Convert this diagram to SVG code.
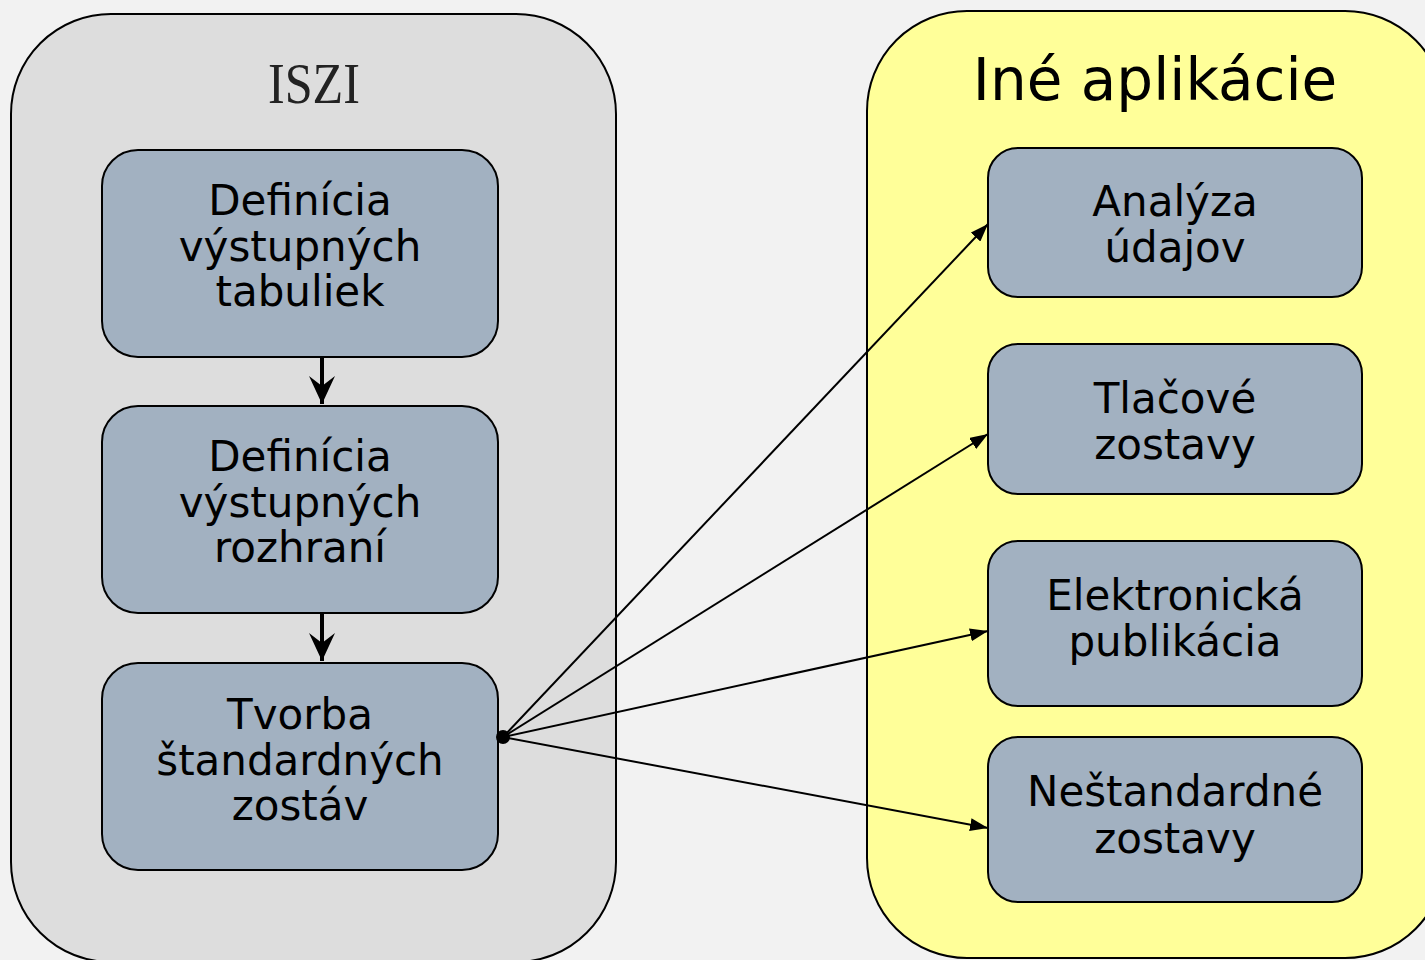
<svg xmlns="http://www.w3.org/2000/svg" width="1425" height="960" viewBox="0 0 1425 960">
<defs>
<style>
.cont{stroke:#000;stroke-width:2}
.node{fill:#A2B1C1;stroke:#000;stroke-width:2}
.lbl{font-family:"DejaVu Sans","Liberation Sans",sans-serif;font-size:42px;fill:#000;text-anchor:middle}
.edge{stroke:#000;stroke-width:2;fill:none}
.vedge{stroke:#000;stroke-width:4;fill:none}
</style>
<marker id="ah" viewBox="0 0 18 13" refX="18" refY="6.5" markerWidth="18" markerHeight="13" markerUnits="userSpaceOnUse" orient="auto">
<path d="M0,0 L18,6.5 L0,13 Z" fill="#000"/>
</marker>
<marker id="vh" viewBox="0 0 28 26" refX="28" refY="13" markerWidth="28" markerHeight="26" markerUnits="userSpaceOnUse" orient="auto">
<path d="M0,0 L28,13 L0,26 L10,13 Z" fill="#000"/>
</marker>
</defs>
<rect width="1425" height="960" fill="#F2F2F2"/>
<g id="iszi">
<rect class="cont" x="11" y="14" width="605" height="948" rx="100" ry="100" fill="#DDDDDD"/>
<text x="314" y="103" font-family="Liberation Serif,serif" font-size="58" fill="#222" text-anchor="middle" textLength="92" lengthAdjust="spacingAndGlyphs">ISZI</text>
</g>
<g id="ine">
<rect class="cont" x="867" y="11" width="578" height="947" rx="100" ry="100" fill="#FFFF99"/>
<text x="1155" y="100" font-family="DejaVu Sans,sans-serif" font-size="58" fill="#000" text-anchor="middle">Iné aplikácie</text>
</g>
<g id="n1">
<rect class="node" x="102" y="150" width="396" height="207" rx="36"/>
<text class="lbl" x="300" y="215">Definícia</text>
<text class="lbl" x="300" y="261">výstupných</text>
<text class="lbl" x="300" y="306">tabuliek</text>
</g>
<g id="n2">
<rect class="node" x="102" y="406" width="396" height="207" rx="36"/>
<text class="lbl" x="300" y="471">Definícia</text>
<text class="lbl" x="300" y="517">výstupných</text>
<text class="lbl" x="300" y="562">rozhraní</text>
</g>
<g id="n3">
<rect class="node" x="102" y="663" width="396" height="207" rx="36"/>
<text class="lbl" x="300" y="729">Tvorba</text>
<text class="lbl" x="300" y="775">štandardných</text>
<text class="lbl" x="300" y="820">zostáv</text>
</g>
<g id="a1">
<rect class="node" x="988" y="148" width="374" height="149" rx="30"/>
<text class="lbl" x="1175" y="216">Analýza</text>
<text class="lbl" x="1175" y="262">údajov</text>
</g>
<g id="a2">
<rect class="node" x="988" y="344" width="374" height="150" rx="30"/>
<text class="lbl" x="1175" y="413">Tlačové</text>
<text class="lbl" x="1175" y="459">zostavy</text>
</g>
<g id="a3">
<rect class="node" x="988" y="541" width="374" height="165" rx="30"/>
<text class="lbl" x="1175" y="610">Elektronická</text>
<text class="lbl" x="1175" y="656">publikácia</text>
</g>
<g id="a4">
<rect class="node" x="988" y="737" width="374" height="165" rx="30"/>
<text class="lbl" x="1175" y="806">Neštandardné</text>
<text class="lbl" x="1175" y="853">zostavy</text>
</g>
<g id="connectors">
<line class="vedge" x1="322" y1="358" x2="322" y2="404" marker-end="url(#vh)"/>
<line class="vedge" x1="322" y1="614" x2="322" y2="661" marker-end="url(#vh)"/>
<line class="edge" x1="503" y1="737" x2="988" y2="224" marker-end="url(#ah)"/>
<line class="edge" x1="503" y1="737" x2="988" y2="434" marker-end="url(#ah)"/>
<line class="edge" x1="503" y1="737" x2="988" y2="631" marker-end="url(#ah)"/>
<line class="edge" x1="503" y1="737" x2="988" y2="828" marker-end="url(#ah)"/>
<circle cx="503" cy="737" r="7" fill="#000"/>
</g>
</svg>
